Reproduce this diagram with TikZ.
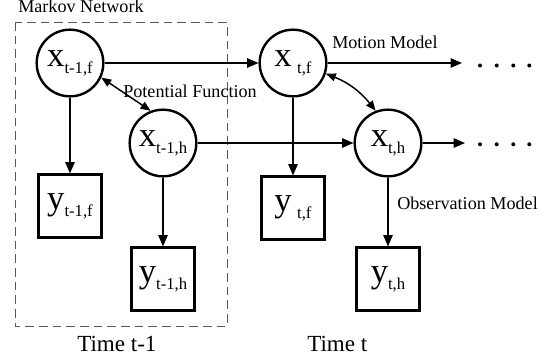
\documentclass[tikz,border=0pt]{standalone}
\usepackage{fontspec}
\setmainfont{Liberation Serif}
\usetikzlibrary{arrows.meta}

% variabile con pedice (x, y)
\newcommand{\nodovar}[2]{{\fontsize{26}{28}\selectfont #1}{\fontsize{12.5}{14}\selectfont\raisebox{-5pt}{#2}}}

\begin{document}
\begin{tikzpicture}[x=0.75pt,y=-0.75pt,
	stato/.style={circle, draw, line width=1.8pt, minimum size=50pt, inner sep=0pt},
	osserv/.style={rectangle, draw, line width=1.8pt, minimum size=47pt, inner sep=0pt},
	freccia/.style={line width=1.1pt, -{Triangle[length=8.5pt,width=7pt]}},
	doppia/.style={line width=1.1pt, {Triangle[length=7.5pt,width=6pt]}-{Triangle[length=7.5pt,width=6pt]}},
	etichetta/.style={font=\fontsize{13.6}{16}\selectfont, anchor=base west, inner sep=0pt},
	tempo/.style={font=\fontsize{17.3}{20}\selectfont, anchor=base west, inner sep=0pt}]

	\useasboundingbox (0,0) rectangle (545,362);

	% Rete di Markov (istante t-1)
	\draw[dash pattern=on 6.5pt off 3.75pt, gray!70!black, line width=0.75pt] (15,22) rectangle (227,326);
	\node[etichetta] (retemarkov) at (18,12.5) {Markov Network};

	% Stati nascosti
	\node[stato] (xf1) at (70,63) {\nodovar{x}{t-1,f}};
	\node[stato] (xh1) at (163,143) {\nodovar{x}{t-1,h}};
	\node[stato] (xf2) at (293,63) {\nodovar{x}{\hspace{4pt}t,f}};
	\node[stato] (xh2) at (388,143) {\nodovar{x}{t,h}};

	% Osservazioni
	\node[osserv] (yf1) at (70,206) {\nodovar{y}{t-1,f}};
	\node[osserv] (yh1) at (163,279) {\nodovar{y}{t-1,h}};
	\node[osserv] (yf2) at (293,208) {\nodovar{y}{\hspace{4pt}t,f}};
	\node[osserv] (yh2) at (388,279) {\nodovar{y}{t,h}};

	% Modello di moto
	\coordinate (fineF) at (462,63);
	\coordinate (fineH) at (465,143);
	\draw[freccia] (xf1) -- (xf2);
	\draw[freccia] (xh1) -- (xh2);
	\draw[freccia] (xf2) -- (fineF);
	\draw[freccia] (xh2) -- (fineH);
	\foreach \px in {480,496.7,513.3,529.3} {
		\fill (\px,65.5) circle (1.5pt);
		\fill (\px,144.3) circle (1.5pt);
	}

	% Modello di osservazione
	\draw[freccia] (xf1) -- (yf1);
	\draw[freccia] (xh1) -- (yh1);
	\draw[freccia] (xf2) -- (yf2);
	\draw[freccia] (xh2) -- (yh2);

	% Funzione potenziale
	\draw[doppia] (xf1.-25) -- (xh1.111);
	\draw[doppia] (xf2.-18) to[bend left=15] (xh2.111);

	\node[etichetta] (potenziale) at (123,97) {Potential Function};
	\node[etichetta] (moto) at (332,48) {Motion Model};
	\node[etichetta] (osservazione) at (397,209) {Observation Model};
	\node[tempo] (tempoprec) at (77,351) {Time t-1};
	\node[tempo] (tempoatt) at (307,351) {Time t};
\end{tikzpicture}
\end{document}
